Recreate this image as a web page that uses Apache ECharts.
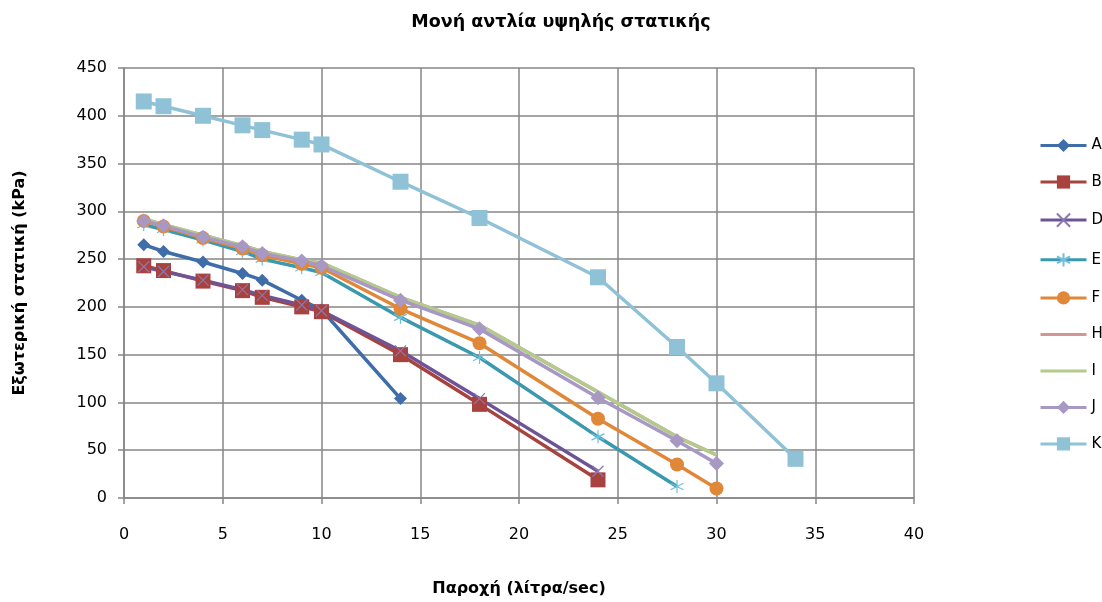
<!DOCTYPE html>
<html>
<head>
<meta charset="utf-8">
<script src="https://cdn.jsdelivr.net/npm/echarts@6/dist/echarts.min.js"></script>
<style>
html,body{margin:0;padding:0;background:#fff;}
#chart{width:1102px;height:602px;}
</style>
</head>
<body>
<div id="chart"></div>
<script>
// Flow (l/s) and external static pressure (kPa) for each pump curve
const titleText = 'Μονή αντλία υψηλής στατικής';
const xTitle = 'Παροχή (λίτρα/sec)';
const yTitle = 'Εξωτερική στατική (kPa)';

const flowShort = [1, 2, 4, 6, 7, 9, 10, 14];
const flowMid = [1, 2, 4, 6, 7, 9, 10, 14, 18, 24];
const flowE = [1, 2, 4, 6, 7, 9, 10, 14, 18, 24, 28];
const flowLong = [1, 2, 4, 6, 7, 9, 10, 14, 18, 24, 28, 30];
const flowK = [1, 2, 4, 6, 7, 9, 10, 14, 18, 24, 28, 30, 34];

const seriesA = [265, 258, 247, 235, 228, 207, 197, 104];
const seriesB = [243, 238, 227, 217, 210, 200, 195, 150, 98, 19];
const seriesD = [242, 237, 228, 218, 212, 202, 196, 154, 104, 28];
const seriesE = [286, 281, 270, 258, 250, 241, 236, 189, 147, 64, 12];
const seriesF = [290, 284, 272, 261, 254, 245, 241, 198, 162, 83, 35, 10];
const seriesH = [292, 286, 275, 264, 258, 249, 246, 210, 181, 111, 64, 45];
const seriesI = [292, 286, 275, 264, 258, 249, 246, 210, 181, 111, 64, 45];
const seriesJ = [290, 285, 273, 263, 256, 248, 243, 207, 177, 105, 60, 36];
const seriesK = [415, 410, 400, 390, 385, 375, 370, 331, 293, 231, 158, 120, 41];

const legendNames = ['A', 'B', 'D', 'E', 'F', 'H', 'I', 'J', 'K'];

const crossPath = 'path://M0,0L10,10M10,0L0,10';
const starPath = 'path://M5,0L5,10M0.5,2.5L9.5,7.5M0.5,7.5L9.5,2.5';

function pairs(xs, ys) { return xs.map((x, i) => [x, ys[i]]); }

function line(name, xs, ys, color, symbol, size, extra) {
  const s = {
    name: name,
    type: 'line',
    data: pairs(xs, ys),
    symbol: symbol,
    symbolSize: size,
    showSymbol: symbol !== 'none',
    lineStyle: { color: color, width: 3.5 },
    itemStyle: { color: color },
    emphasis: { disabled: true },
    animation: false
  };
  return Object.assign(s, extra || {});
}

const chart = echarts.init(document.getElementById('chart'));
const font = '"DejaVu Sans", Verdana, sans-serif';
const gridGray = '#868686';

chart.setOption({
  backgroundColor: '#fff',
  title: {
    text: titleText,
    left: 556, top: 8, textAlign: 'center',
    textStyle: { fontFamily: font, fontSize: 17.5, fontWeight: 'bold', color: '#000' }
  },
  legend: {
    orient: 'vertical',
    left: 1034, top: 133,
    itemGap: 21.5,
    itemWidth: 46, itemHeight: 16.5,
    lineStyle: { width: 3 },
    textStyle: { fontFamily: font, fontSize: 15, color: '#000' },
    // the two marker-less curves show only a line in the key
    data: legendNames.map(n => (n === 'H' || n === 'I')
      ? { name: n, itemStyle: { opacity: 0 } }
      : n)
  },
  grid: { left: 124, top: 68, width: 790, height: 430, containLabel: false },
  xAxis: {
    type: 'value', min: 0, max: 40, interval: 5,
    name: xTitle, nameLocation: 'middle', nameGap: 83,
    nameTextStyle: { fontFamily: font, fontSize: 16, fontWeight: 'bold', color: '#000' },
    axisLine: { show: true, lineStyle: { color: gridGray, width: 1.5 } },
    axisTick: { show: true, length: 6, lineStyle: { color: gridGray, width: 1.5 } },
    axisLabel: { fontFamily: font, fontSize: 16, color: '#000', margin: 29 },
    splitLine: { show: true, lineStyle: { color: gridGray, width: 1.5 } }
  },
  yAxis: {
    type: 'value', min: 0, max: 450, interval: 50,
    name: yTitle, nameLocation: 'middle', nameGap: 96, nameRotate: 90,
    nameTextStyle: { fontFamily: font, fontSize: 16, fontWeight: 'bold', color: '#000' },
    axisLine: { show: true, lineStyle: { color: gridGray, width: 1.5 } },
    axisTick: { show: true, length: 6, lineStyle: { color: gridGray, width: 1.5 } },
    axisLabel: { fontFamily: font, fontSize: 16, color: '#000', margin: 17 },
    splitLine: { show: true, lineStyle: { color: gridGray, width: 1.5 } }
  },
  series: [
    line('A', flowShort, seriesA, '#3F6DAA', 'diamond', 13),
    line('B', flowMid, seriesB, '#A8423F', 'rect', 15),
    line('D', flowMid, seriesD, '#6E5496', crossPath, 11,
      { itemStyle: { color: 'none', borderColor: '#8A78B0', borderWidth: 1.2 } }),
    line('E', flowE, seriesE, '#3A98AF', starPath, 13,
      { itemStyle: { color: 'none', borderColor: '#6FC0D8', borderWidth: 1.2 } }),
    line('F', flowLong, seriesF, '#E08738', 'circle', 14),
    line('H', flowLong, seriesH, '#D49595', 'none', 0),
    line('I', flowLong, seriesI, '#B2CB8C', 'none', 0),
    line('J', flowLong, seriesJ, '#A898C4', 'diamond', 15),
    line('K', flowK, seriesK, '#8FC2D6', 'rect', 16)
  ]
});
</script>
</body>
</html>
